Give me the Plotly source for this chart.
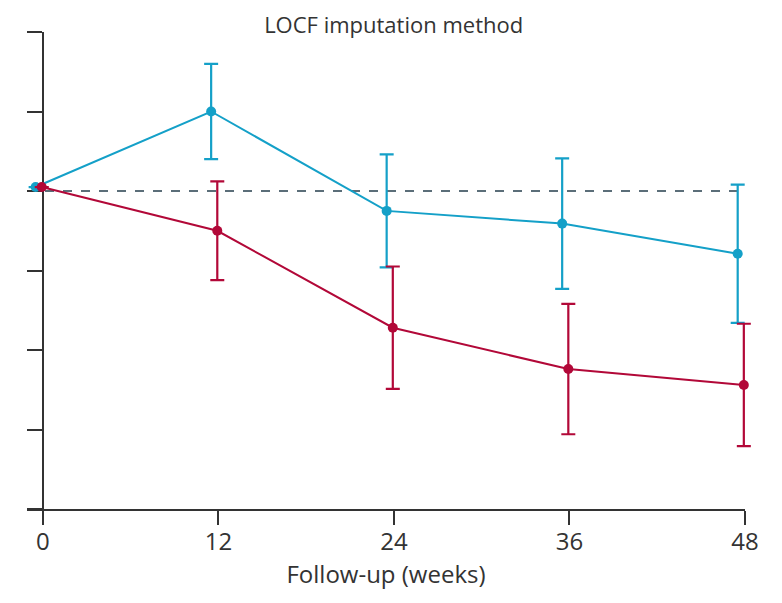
import plotly.graph_objects as go

weeks = [0, 12, 24, 36, 48]
week_tick_labels = ["0", "12", "24", "36", "48"]

blue_mean = [0.05, 1.0, -0.25, -0.41, -0.79]
blue_err = [0.0, 0.6, 0.71, 0.82, 0.87]

red_mean = [0.05, -0.5, -1.72, -2.24, -2.44]
red_err = [0.0, 0.62, 0.77, 0.82, 0.77]

y_ticks = [-4, -3, -2, -1, 0, 1, 2]

BLUE = "#14a0c8"
RED = "#b20838"
AXIS = "#333333"

blue_offset = -0.5
red_offset = -0.08

# page has an 8px body margin; figure is sized/positioned to compensate
FIG_W, FIG_H = 774, 595
M_L, M_T, M_B = 19, 24, 94
AXIS_RIGHT_PX = 737          # right end of visible x axis, in figure pixels
PLOT_RIGHT_PX = FIG_W - 14   # right edge of data plotting area (room for caps)

X_MIN, X_MAX = -1.09, 48
Y_MIN, Y_MAX = -4, 2

plot_w = PLOT_RIGHT_PX - M_L
axis_w = AXIS_RIGHT_PX - M_L
px_per_unit = axis_w / (X_MAX - X_MIN)
X2_MAX = X_MIN + plot_w / px_per_unit

fig = go.Figure()

fig.add_shape(type="line", x0=X_MIN, x1=47.5, y0=0, y1=0, xref="x", yref="y",
              line=dict(color="#5b6e79", width=2, dash="dash"), layer="below")

fig.add_trace(go.Scatter(
    x=[w + blue_offset for w in weeks], y=blue_mean, xaxis="x2", yaxis="y",
    mode="lines+markers", cliponaxis=False,
    line=dict(color=BLUE, width=2),
    marker=dict(color=BLUE, size=10),
    error_y=dict(type="data", array=blue_err, visible=True,
                 color=BLUE, thickness=2.2, width=7),
    showlegend=False,
))
fig.add_trace(go.Scatter(
    x=[w + red_offset for w in weeks], y=red_mean, xaxis="x2", yaxis="y",
    mode="lines+markers", cliponaxis=False,
    line=dict(color=RED, width=2),
    marker=dict(color=RED, size=10),
    error_y=dict(type="data", array=red_err, visible=True,
                 color=RED, thickness=2.2, width=7),
    showlegend=False,
))
# invisible trace to keep the visible x axis subplot alive
fig.add_trace(go.Scatter(x=[X_MIN], y=[Y_MIN], mode="markers",
                         marker=dict(opacity=0), hoverinfo="skip", showlegend=False))

fig.update_layout(
    width=FIG_W, height=FIG_H,
    margin=dict(l=M_L, r=FIG_W - PLOT_RIGHT_PX, t=M_T, b=M_B),
    paper_bgcolor="white", plot_bgcolor="rgba(0,0,0,0)",
    font=dict(family="Open Sans, DejaVu Sans, sans-serif", color=AXIS),
    title=dict(text="LOCF imputation method", x=(391 - 8) / FIG_W, xanchor="center",
               y=1 - 17 / FIG_H, yanchor="middle", yref="container", xref="paper",
               font=dict(size=22, color="#333333")),
    xaxis=dict(
        domain=[0, axis_w / plot_w],
        range=[X_MIN, X_MAX], tickmode="array", tickvals=weeks, ticktext=week_tick_labels,
        showgrid=False, zeroline=False, showline=True, linecolor=AXIS, linewidth=2,
        ticks="outside", ticklen=14, tickwidth=2, tickcolor=AXIS,
        ticklabelstandoff=-4, automargin=False,
        tickfont=dict(size=24, color="#333333"),
        title=dict(text="Follow-up (weeks)", font=dict(size=24, color="#333333"), standoff=10),
    ),
    xaxis2=dict(
        domain=[0, 1], range=[X_MIN, X2_MAX], anchor="y",
        visible=False, showgrid=False, zeroline=False, automargin=False,
    ),
    yaxis=dict(
        range=[Y_MIN, Y_MAX], tickmode="array", tickvals=y_ticks, showticklabels=False,
        showgrid=False, zeroline=False, showline=True, linecolor=AXIS, linewidth=2,
        ticks="outside", ticklen=15, tickwidth=2, tickcolor=AXIS,
        anchor="free", position=(0 - X_MIN) * px_per_unit / plot_w, automargin=False,
    ),
)

fig.write_html("out.html")
